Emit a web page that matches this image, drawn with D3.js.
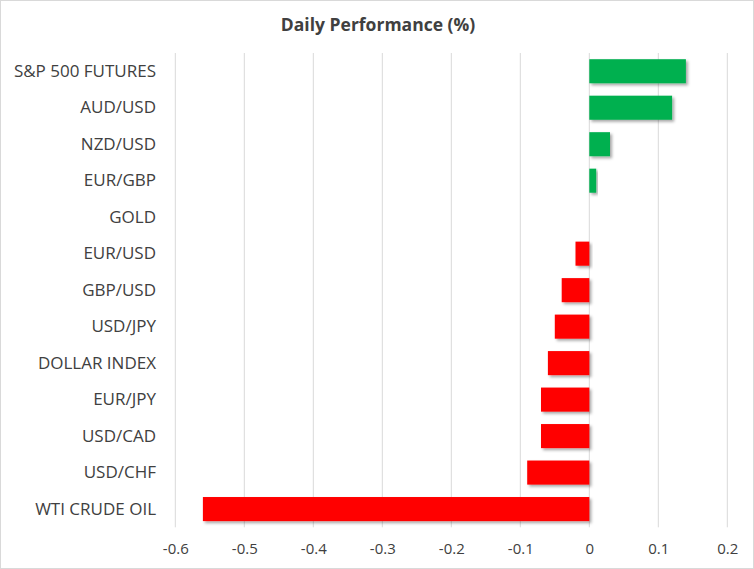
<!DOCTYPE html>
<html><head><meta charset="utf-8">
<script src="https://cdn.jsdelivr.net/npm/d3@7"></script>
<style>body{margin:0;background:#fff;} svg{display:block;}</style>
</head><body>
<script>
const categories = ["S&P 500 FUTURES","AUD/USD","NZD/USD","EUR/GBP","GOLD","EUR/USD","GBP/USD","USD/JPY","DOLLAR INDEX","EUR/JPY","USD/CAD","USD/CHF","WTI CRUDE OIL"];
const values = [0.14,0.12,0.03,0.01,0,-0.02,-0.04,-0.05,-0.06,-0.07,-0.07,-0.09,-0.56];
const tickValues = [-0.6,-0.5,-0.4,-0.3,-0.2,-0.1,0,0.1,0.2];
const tickLabels = ["-0.6","-0.5","-0.4","-0.3","-0.2","-0.1","0","0.1","0.2"];
const title = "Daily Performance (%)";

const W = 754, H = 569;
const svg = d3.select("body").append("svg").attr("width", W).attr("height", H);
const defs = svg.append("defs");
const f = defs.append("filter").attr("id","sh").attr("x","-10%").attr("y","-30%").attr("width","130%").attr("height","180%");
f.append("feDropShadow").attr("dx",2).attr("dy",2).attr("stdDeviation",1.5).attr("flood-color","#000").attr("flood-opacity",0.35);

svg.append("rect").attr("x",0.5).attr("y",0.5).attr("width",W-1).attr("height",H-1).attr("fill","#fff").attr("stroke","#d9d9d9");

const x = d3.scaleLinear().domain([-0.6,0.2]).range([175.3,727.3]);
const y = d3.scaleBand().domain(categories).range([53,527.3]).paddingInner(0.34).paddingOuter(0.17);

const font = "'Open Sans', sans-serif";
svg.append("text").attr("x",378).attr("y",31).attr("text-anchor","middle")
  .attr("font-family",font).attr("font-size",17.5).attr("font-weight","bold").attr("fill","#404040").text(title);

const grid = svg.append("g");
grid.selectAll("line").data(tickValues).join("line")
  .attr("x1",d=>x(d)).attr("x2",d=>x(d)).attr("y1",53).attr("y2",527.3)
  .attr("stroke","#d9d9d9").attr("stroke-width",1);

const ax = svg.append("g").attr("transform","translate(0,527)")
  .call(d3.axisBottom(x).tickValues(tickValues).tickFormat((d,i)=>tickLabels[i]).tickSize(0).tickPadding(16));
ax.select(".domain").remove();
ax.selectAll("text").attr("font-family",font).attr("font-size",15).attr("fill","#404040");

svg.append("g").selectAll("rect").data(values).join("rect")
  .attr("x",d=>x(Math.min(0,d))).attr("width",d=>Math.abs(x(d)-x(0)))
  .attr("y",(d,i)=>y(categories[i])).attr("height",y.bandwidth())
  .attr("fill",d=>d>=0?"#00B050":"#FF0000")
  .attr("filter",d=>d===0?null:"url(#sh)");

const ay = svg.append("g").attr("transform","translate(175,0)")
  .call(d3.axisLeft(y).tickSize(0).tickPadding(19));
ay.select(".domain").remove();
ay.selectAll("text").attr("font-family",font).attr("font-size",17).attr("fill","#404040");
</script>
</body></html>
